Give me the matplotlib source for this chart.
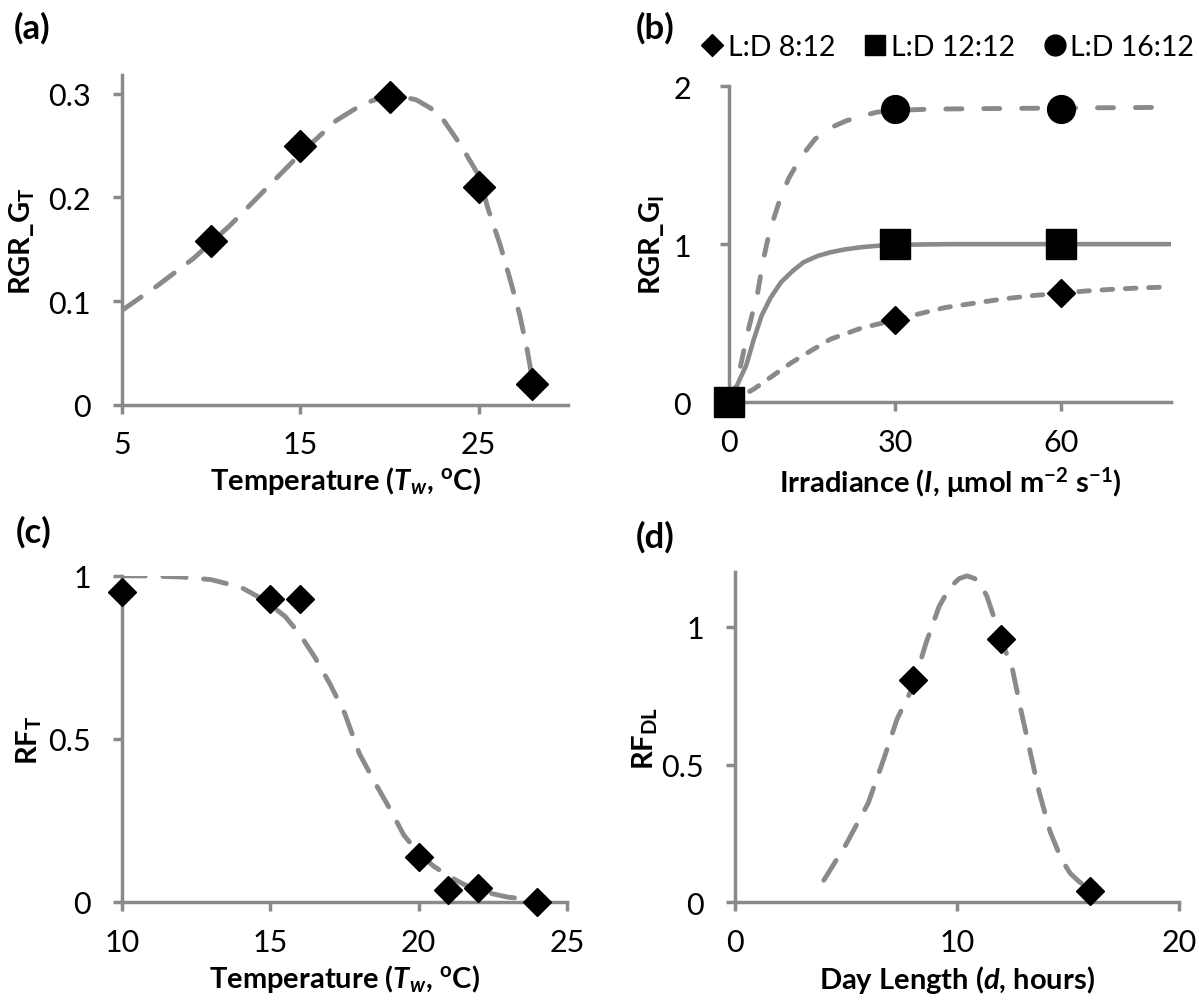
import numpy as np
import matplotlib
matplotlib.use('Agg')
import matplotlib.pyplot as plt
from matplotlib.lines import Line2D

plt.rcParams['font.family'] = ['Lato', 'DejaVu Sans']
plt.rcParams['mathtext.fontset'] = 'custom'
plt.rcParams['mathtext.rm'] = 'Lato'
plt.rcParams['mathtext.it'] = 'Lato:italic'
plt.rcParams['mathtext.bf'] = 'Lato:bold'
plt.rcParams['mathtext.bfit'] = 'Lato:bold:italic'

# ---- data ----
# (a) growth vs temperature
a_temp = [10, 15, 20, 25, 28]
a_rgr = [0.158, 0.250, 0.297, 0.210, 0.020]
a_fit_x = [5, 7, 9, 11, 13, 15, 17, 18.5, 19.5, 20.5, 21.5, 22.3, 23, 24, 25, 25.5, 26.2,
           26.8, 27.3, 27.7, 28]
a_fit_y = [0.091, 0.115, 0.141, 0.172, 0.207, 0.242, 0.274, 0.290, 0.296, 0.298, 0.294, 0.286,
           0.275, 0.25, 0.221, 0.19, 0.154, 0.118, 0.086, 0.054, 0.025]

# (b) growth vs irradiance, three photoperiods
b_irr = [0, 30, 60]
b_ld8 = [0, 0.52, 0.69]
b_ld12 = [0, 1.0, 1.0]
b_ld16 = [0, 1.855, 1.855]
b_fit8_x = [0, 2, 4.5, 8, 11.4, 15, 18.4, 24, 30, 35, 39.2, 45, 49.7, 55, 60, 65, 70.5, 75, 80]
b_fit8_y = [0, 0.035, 0.084, 0.17, 0.253, 0.33, 0.40, 0.47, 0.52, 0.565, 0.60, 0.63, 0.654,
            0.675, 0.69, 0.705, 0.717, 0.724, 0.73]
b_fit12_x = [0, 1, 2, 3.1, 4.5, 5.9, 7.5, 9.4, 11.5, 13.5, 16, 18.4, 21, 24, 27, 30, 35, 40,
             50, 60, 80]
b_fit12_y = [0, 0.07, 0.15, 0.232, 0.40, 0.548, 0.66, 0.759, 0.83, 0.886, 0.925, 0.949, 0.967,
             0.981, 0.99, 0.995, 0.998, 1.0, 1.0, 1.0, 1.0]
b_fit16_x = [0, 1, 2.1, 3.5, 5.2, 6.2, 7.3, 9, 10.75, 13, 15.6, 18.3, 21.2, 24, 26.8, 30, 35,
             40, 50, 65, 80]
b_fit16_y = [0, 0.08, 0.232, 0.46, 0.696, 0.90, 1.076, 1.26, 1.413, 1.55, 1.666, 1.735, 1.78,
             1.81, 1.835, 1.845, 1.852, 1.855, 1.858, 1.862, 1.865]
b_labels = ['L:D 8:12', 'L:D 12:12', 'L:D 16:12']

# (c) reduction factor vs temperature
c_temp = [10, 15, 16, 20, 21, 22, 24]
c_rf = [0.95, 0.93, 0.93, 0.137, 0.038, 0.042, 0.0]
c_fit_x = [10, 11, 12, 13, 14, 14.8, 15.5, 16, 16.5, 17, 17.5, 18, 18.5, 19, 19.5, 20, 20.5,
           21, 21.5, 22, 22.5, 23, 24]
c_fit_y = [1.0, 0.999, 0.996, 0.988, 0.965, 0.925, 0.875, 0.82, 0.75, 0.67, 0.58, 0.455, 0.37,
           0.29, 0.205, 0.15, 0.11, 0.08, 0.055, 0.035, 0.025, 0.015, 0.005]

# (d) reduction factor vs day length
d_len = [8, 12, 16]
d_rf = [0.807, 0.955, 0.042]
d_fit_x = [4, 5, 6, 6.7, 7.3, 8, 8.6, 9.2, 9.7, 10.1, 10.45, 10.8, 11.1, 11.35, 11.6, 12.1,
           12.5, 12.9, 13.3, 13.7, 14.2, 14.7, 15.1, 15.5, 16]
d_fit_y = [0.08, 0.21, 0.36, 0.52, 0.665, 0.78, 0.94, 1.075, 1.145, 1.175, 1.185, 1.175, 1.15,
           1.11, 1.05, 0.93, 0.845, 0.69, 0.545, 0.40, 0.255, 0.157, 0.105, 0.075, 0.045]

W, H = 1199, 1003
GREY = '#8a8a8a'
fig = plt.figure(figsize=(W / 100, H / 100), dpi=100)


def px_axes(left, right, bottom, top):
    return fig.add_axes([left / W, 1 - bottom / H, (right - left) / W, (bottom - top) / H])


def style(ax, xlim, ylim, xt, yt, xtl, ytl, ypad=16):
    ax.set_xlim(*xlim)
    ax.set_ylim(*ylim)
    for s in ['top', 'right']:
        ax.spines[s].set_visible(False)
    for s in ['left', 'bottom']:
        ax.spines[s].set_color(GREY)
        ax.spines[s].set_linewidth(2.5)
    ax.set_xticks(xt)
    ax.set_xticklabels(xtl)
    ax.set_yticks(yt)
    ax.set_yticklabels(ytl)
    ax.tick_params(axis='both', direction='out', length=6.5, width=2.5, color=GREY,
                   labelsize=22, labelcolor='black')
    ax.tick_params(axis='x', pad=12)
    ax.tick_params(axis='y', pad=ypad)


def lab(ax, xl, yl, xpos, ypos):
    ax.set_xlabel(xl, fontsize=21, fontweight='bold')
    ax.set_ylabel(yl, fontsize=21, fontweight='bold')
    ax.xaxis.set_label_coords(0.5, xpos)
    ax.yaxis.set_label_coords(ypos, 0.5)


dash_long = (4.8, 3.6)
mk = dict(color='black', linestyle='none', clip_on=False, zorder=5)

# (a)
ax = px_axes(122, 568, 405.7, 76)
ax.plot(a_fit_x, a_fit_y, color=GREY, lw=3.5, dashes=dash_long, dash_capstyle='round')
ax.plot(a_temp, a_rgr, marker='D', ms=16.5, **mk)
style(ax, (5, 30), (0, 0.318), [5, 15, 25], [0, 0.1, 0.2, 0.3],
      ['5', '15', '25'], ['0', '0.1', '0.2', '0.3'])
lab(ax, r'Temperature ($\mathbfit{T}_{\mathbfit{w}}$, $^{\mathbf{o}}$C)', r'RGR_G$_{\mathbf{T}}$',
    -0.18, -0.19)

# (b)
ax = px_axes(729, 1171.4, 403.3, 87)
ax.plot(b_fit8_x, b_fit8_y, color=GREY, lw=3.5, dashes=(2.2, 2.6), dash_capstyle='round')
ax.plot(b_fit12_x, b_fit12_y, color=GREY, lw=3.3, solid_capstyle='round')
ax.plot(b_fit16_x, b_fit16_y, color=GREY, lw=3.5, dashes=(3.3, 4.5), dash_capstyle='round')
ax.plot(b_irr, b_ld8, marker='D', ms=14.5, **mk)
ax.plot(b_irr, b_ld16, marker='o', ms=20, **mk)
ax.plot(b_irr, b_ld12, marker='s', ms=21, **mk)
style(ax, (0, 80), (0, 2), [0, 30, 60], [0, 1, 2], ['0', '30', '60'], ['0', '1', '2'], ypad=21)
lab(ax, r'Irradiance ($\mathbfit{I}$, μmol m$^{\mathbf{-2}}$ s$^{\mathbf{-1}}$)',
    r'RGR_G$_{\mathbf{I}}$', -0.195, -0.14)
handles = [Line2D([], [], color='black', marker='D', ms=11.5, linestyle='none'),
           Line2D([], [], color='black', marker='s', ms=15, linestyle='none'),
           Line2D([], [], color='black', marker='o', ms=15, linestyle='none')]
fig.legend(handles, b_labels, loc='center left', bbox_to_anchor=(702 / W, 1 - 48 / H),
           ncol=3, frameon=False, fontsize=20.5, handlelength=0.7, handletextpad=0.2,
           columnspacing=1.05, borderaxespad=0, borderpad=0)

# (c)
ax = px_axes(122, 567, 903, 576.7)
ax.plot(c_fit_x, c_fit_y, color=GREY, lw=3.5, dashes=dash_long, dash_capstyle='round')
ax.plot(c_temp, c_rf, marker='D', ms=14, **mk)
style(ax, (10, 25), (0, 1), [10, 15, 20, 25], [0, 0.5, 1],
      ['10', '15', '20', '25'], ['0', '0.5', '1'])
lab(ax, r'Temperature ($\mathbfit{T}_{\mathbfit{w}}$, $^{\mathbf{o}}$C)', r'RF$_{\mathbf{T}}$',
    -0.185, -0.175)

# (d)
ax = px_axes(735, 1179, 903.3, 572.7)
ax.plot(d_fit_x, d_fit_y, color=GREY, lw=3.5, dashes=dash_long, dash_capstyle='round')
ax.plot(d_len, d_rf, marker='D', ms=14, **mk)
style(ax, (0, 20), (0, 1.2), [0, 10, 20], [0, 0.5, 1],
      ['0', '10', '20'], ['0', '0.5', '1'])
lab(ax, r'Day Length ($\mathbfit{d}$, hours)', r'RF$_{\mathbf{DL}}$', -0.185, -0.17)

# panel letters
for txt, x, y in [('(a)', 14, 28), ('(b)', 636, 28), ('(c)', 16, 532), ('(d)', 636, 537)]:
    fig.text(x / W, 1 - y / H, txt, fontsize=25, fontweight='bold', va='center', ha='left')

fig.savefig('out.png', dpi=100)
